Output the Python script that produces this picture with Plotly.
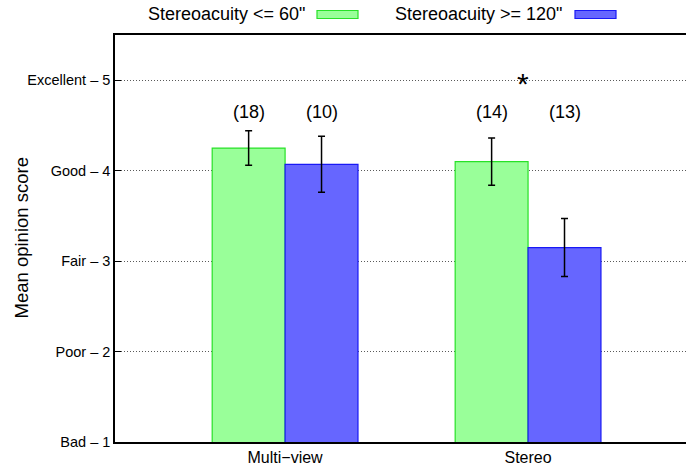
import plotly.graph_objects as go

# Data
categories = ["Multi\u2212view", "Stereo"]
series_names = ['Stereoacuity <= 60"', 'Stereoacuity >= 120"']
good_means = [4.25, 4.10]
good_errors = [0.19, 0.26]
poor_means = [4.07, 3.15]
poor_errors = [0.31, 0.32]
good_counts = ["(18)", "(14)"]
poor_counts = ["(10)", "(13)"]
tick_values = [1, 2, 3, 4, 5]
tick_labels = ["Bad \u2013 1", "Poor \u2013 2", "Fair \u2013 3", "Good \u2013 4", "Excellent \u2013 5"]
y_title = "Mean opinion score"

FONT = "Liberation Sans, Arial, Helvetica, sans-serif"
GREEN_FILL = "rgb(153,255,153)"
GREEN_LINE = "rgb(40,225,40)"
BLUE_FILL = "rgb(102,102,255)"
BLUE_LINE = "rgb(25,25,245)"

W, H = 686, 467
L, R, T, B = 115, 0, 35, 25

fig = go.Figure()
fig.add_trace(go.Bar(
    x=categories, y=good_means, name=series_names[0],
    marker=dict(color=GREEN_FILL, line=dict(color=GREEN_LINE, width=1.2)),
    error_y=dict(type="data", array=good_errors, color="black", thickness=1.5, width=3.5),
))
fig.add_trace(go.Bar(
    x=categories, y=poor_means, name=series_names[1],
    marker=dict(color=BLUE_FILL, line=dict(color=BLUE_LINE, width=1.2)),
    error_y=dict(type="data", array=poor_errors, color="black", thickness=1.5, width=3.5),
))

annotations = []
# sample-size labels above each bar
for i in range(len(categories)):
    annotations.append(dict(x=i - 0.15, y=4.65, xref="x", yref="y", text=good_counts[i],
                            showarrow=False, font=dict(size=18, color="black", family=FONT)))
    annotations.append(dict(x=i + 0.15, y=4.65, xref="x", yref="y", text=poor_counts[i],
                            showarrow=False, font=dict(size=18, color="black", family=FONT)))
# significance marker
annotations.append(dict(x=0.98, y=4.96, xref="x", yref="y", text="*",
                        showarrow=False, font=dict(size=30, color="black", family=FONT)))

# pixel -> paper helpers
pw = W - L - R
ph = H - T - B
def px(xp):
    return (xp - L) / pw
def py(yp):
    return (H - B - yp) / ph

# vertical axis title
annotations.append(dict(x=px(21), y=0.5, xref="paper", yref="paper", text=y_title,
                        textangle=-90, xanchor="center", yanchor="middle", showarrow=False,
                        font=dict(size=18.5, color="black", family=FONT)))

# legend drawn as text followed by a swatch
shapes = []
legend_items = [(308, 317, 358, GREEN_FILL, GREEN_LINE), (565, 575, 616, BLUE_FILL, BLUE_LINE)]
for name, (tx, sx0, sx1, fill, line) in zip(series_names, legend_items):
    annotations.append(dict(x=px(tx), y=py(14), xref="paper", yref="paper", text=name,
                            xanchor="right", yanchor="middle", showarrow=False,
                            font=dict(size=18, color="black", family=FONT)))
    shapes.append(dict(type="rect", xref="paper", yref="paper",
                       x0=px(sx0), x1=px(sx1), y0=py(18.5), y1=py(10.5),
                       fillcolor=fill, line=dict(color=line, width=1.2)))

fig.update_layout(
    width=W, height=H,
    margin=dict(l=L, r=R, t=T, b=B),
    paper_bgcolor="white", plot_bgcolor="white",
    barmode="group", bargap=0.4, bargroupgap=0,
    showlegend=False,
    font=dict(family=FONT, color="black"),
    annotations=annotations, shapes=shapes,
)
fig.update_xaxes(
    range=[-0.7, 1.65], showline=True, linecolor="black", linewidth=1.5, mirror=True,
    showgrid=False, ticks="", tickfont=dict(size=16, family=FONT, color="black"),
)
fig.update_yaxes(
    range=[1, 5.5], tickvals=tick_values, ticktext=tick_labels,
    showline=True, linecolor="black", linewidth=1.5,
    ticks="inside", ticklen=6, tickcolor="black", tickwidth=1,
    showgrid=True, gridcolor="rgb(90,90,90)", griddash="1px,2px", gridwidth=1,
    zeroline=False, tickfont=dict(size=14.5, family=FONT, color="black"),
)

fig.write_html("out.html")
